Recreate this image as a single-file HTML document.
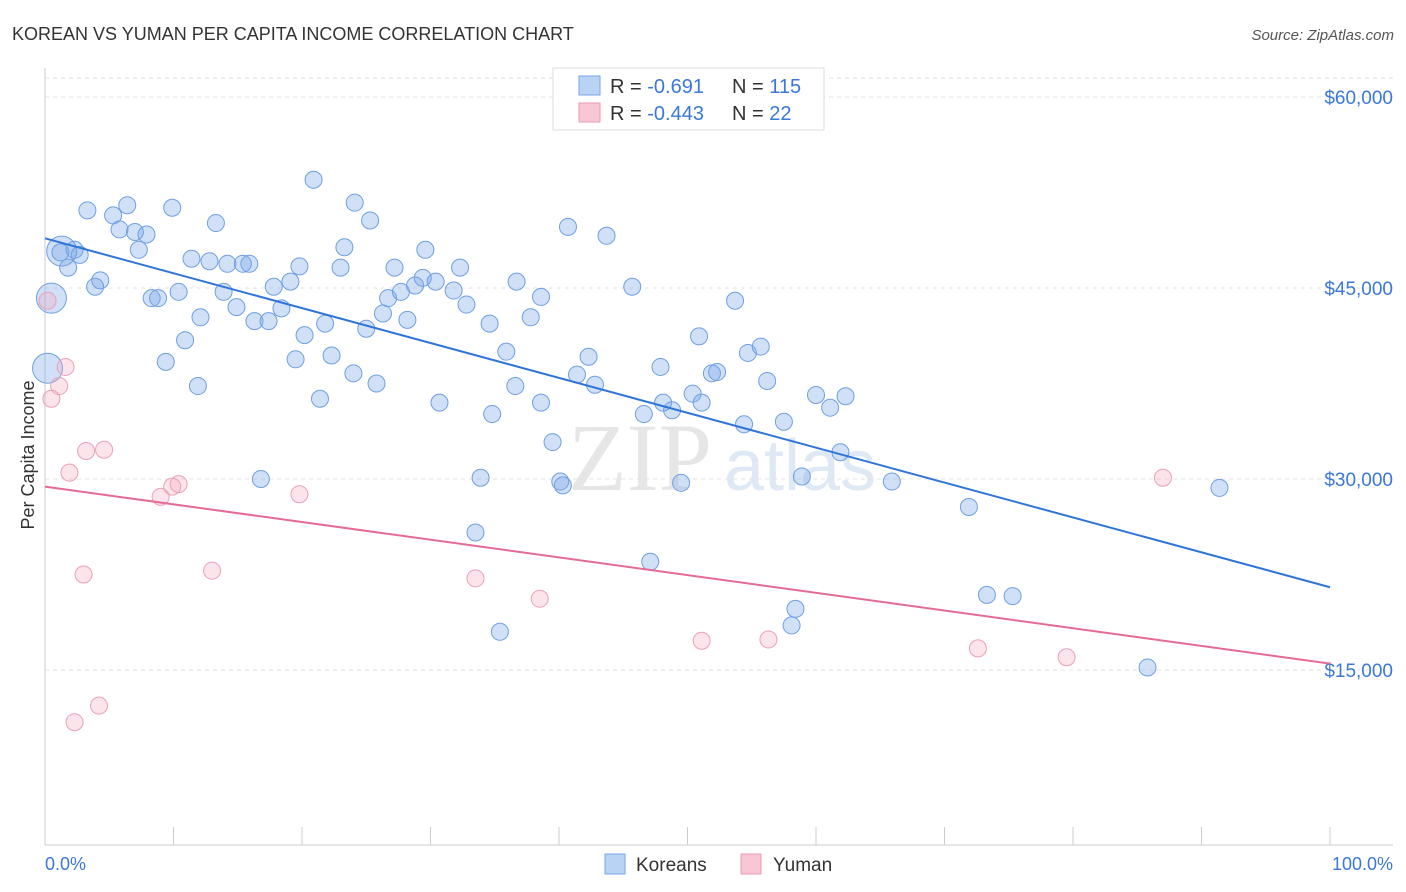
<!DOCTYPE html>
<html><head><meta charset="utf-8"><style>
body{margin:0;background:#fff;font-family:"Liberation Sans",sans-serif;}
svg{display:block}
</style></head><body>
<svg id="c" width="1406" height="892" xmlns="http://www.w3.org/2000/svg">
<text x="12" y="40" font-size="18" fill="#333">KOREAN VS YUMAN PER CAPITA INCOME CORRELATION CHART</text>
<text x="1394" y="40" font-size="15" fill="#555" font-style="italic" text-anchor="end">Source: ZipAtlas.com</text>
<text x="640" y="490" font-size="96" fill="#e6e6e6" font-family="Liberation Serif" text-anchor="middle">ZIP</text>
<text x="800" y="490" font-size="72" fill="#dfe8f5" text-anchor="middle">atlas</text>
<g id="grid"></g><g id="axes"></g><g id="pts"></g><g id="trend"></g>
<text transform="translate(34,455) rotate(-90)" font-size="18" fill="#333" text-anchor="middle">Per Capita Income</text>
<text x="45" y="870" font-size="18" fill="#3b78d8">0.0%</text>
<text x="1393" y="870" font-size="18" fill="#3b78d8" text-anchor="end">100.0%</text>
<g>
<rect x="553" y="68" width="271" height="62" fill="#fff" stroke="#ddd"/>
<rect x="579" y="76" width="21" height="19" fill="#b9d3f5" stroke="#7aa6e6"/>
<rect x="579" y="103" width="21" height="19" fill="#f9c6d5" stroke="#ec9ab5"/>
<text x="610" y="93" font-size="20" fill="#333">R = <tspan fill="#3b78d8"> -0.691</tspan></text>
<text x="732" y="93" font-size="20" fill="#333">N = <tspan fill="#3b78d8">115</tspan></text>
<text x="610" y="120" font-size="20" fill="#333">R = <tspan fill="#3b78d8">-0.443</tspan></text>
<text x="732" y="120" font-size="20" fill="#333">N = <tspan fill="#3b78d8"> 22</tspan></text>
</g>
<g><rect x="605" y="854" width="20" height="20" fill="#b9d3f5" stroke="#7aa6e6"/><text x="636" y="871" font-size="19" fill="#333">Koreans</text></g>
<g><rect x="741" y="854" width="20" height="20" fill="#f9c6d5" stroke="#ec9ab5"/><text x="773" y="871" font-size="19" fill="#333">Yuman</text></g>
</svg>
<script>
const yTicks=[15000,30000,45000,60000];
const yTickLabels=["$15,000","$30,000","$45,000","$60,000"];
const koreanX=[3.3,6.4,5.3,9.9,20.9,24.1,25.3,13.3,40.7,43.7,7.0,7.9,5.8,1.2,2.3,1.8,2.7,7.3,11.4,12.8,14.2,15.4,15.9,19.8,23.0,23.3,27.2,29.6,32.3,36.7,4.3,3.9,10.4,8.3,8.8,13.9,14.9,12.1,16.3,17.4,17.8,18.4,19.1,26.7,27.7,28.8,29.4,30.4,31.8,32.8,26.3,28.2,25.0,21.8,20.2,34.6,37.8,38.6,45.7,53.7,50.9,10.9,9.4,19.5,22.3,35.9,42.3,47.9,54.7,55.7,56.2,52.3,51.9,11.9,24.0,25.8,21.4,30.7,36.6,38.6,34.8,41.4,42.8,46.6,48.1,48.8,50.4,51.1,54.4,57.5,60.0,61.1,62.3,61.9,39.5,16.8,33.9,40.1,40.3,49.5,58.9,65.9,71.9,91.4,33.5,47.1,73.3,75.3,58.4,58.1,35.4,85.8,0.5,0.2,1.3];
const koreanY=[51.1,51.5,50.7,51.3,53.5,51.7,50.3,50.1,49.8,49.1,49.4,49.2,49.6,47.8,48.0,46.6,47.6,48.0,47.3,47.1,46.9,46.9,46.9,46.7,46.6,48.2,46.6,48.0,46.6,45.5,45.6,45.1,44.7,44.2,44.2,44.7,43.5,42.7,42.4,42.4,45.1,43.4,45.5,44.2,44.7,45.2,45.8,45.5,44.8,43.7,43.0,42.5,41.8,42.2,41.3,42.2,42.7,44.3,45.1,44.0,41.2,40.9,39.2,39.4,39.7,40.0,39.6,38.8,39.9,40.4,37.7,38.4,38.3,37.3,38.3,37.5,36.3,36.0,37.3,36.0,35.1,38.2,37.4,35.1,36.0,35.4,36.7,36.0,34.3,34.5,36.6,35.6,36.5,32.1,32.9,30.0,30.1,29.8,29.5,29.7,30.2,29.8,27.8,29.3,25.8,23.5,20.9,20.8,19.8,18.5,18.0,15.2,44.2,38.7,47.9];
const koreanSize=koreanX.map((_,i)=>i>=koreanX.length-3?1:0);
const yumanX=[0.2,1.6,1.1,0.5,1.9,3.2,4.6,10.4,9.9,9.0,19.8,3.0,13.0,33.5,38.5,51.1,56.3,72.6,79.5,87.0,4.2,2.3];
const yumanY=[44.0,38.8,37.3,36.3,30.5,32.2,32.3,29.6,29.4,28.6,28.8,22.5,22.8,22.2,20.6,17.3,17.4,16.7,16.0,30.1,12.2,10.9];
const koreanTrend=[48.9,21.5];
const yumanTrend=[29.4,15.5];
const NS='http://www.w3.org/2000/svg';
const X=p=>45+p*12.85;
const Y=v=>861-v/15000*191;
const Yk=v=>Y(v*1000);
function mk(t,a,p){const e=document.createElementNS(NS,t);for(const k in a)e.setAttribute(k,a[k]);document.getElementById(p).appendChild(e);return e;}
let g=mk('line',{x1:45,x2:1393,y1:78,y2:78,stroke:'#e3e3e3','stroke-dasharray':'4,4'},'grid');


yTicks.forEach((v,i)=>{
 const l=mk('line',{x1:45,x2:1393,y1:Y(v),y2:Y(v),stroke:'#e3e3e3','stroke-dasharray':'4,4'},'grid');
 
 
 const t=mk('text',{x:1393,y:Y(v)+7,'font-size':19,fill:'#3b78d8','text-anchor':'end'},'axes');
 t.textContent=yTickLabels[i];
 
 
});
let ax=mk('line',{x1:45,x2:45,y1:68,y2:845,stroke:'#ccc'},'axes');


let bx=mk('line',{x1:45,x2:1393,y1:845,y2:845,stroke:'#ccc'},'axes');


for(let i=0;i<=10;i++){const t=mk('line',{x1:X(i*10),x2:X(i*10),y1:827,y2:845,stroke:'#ccc'},'axes');
 
 }
koreanX.forEach((x,i)=>{const c=mk('circle',{cx:X(x),cy:Yk(koreanY[i]),r:koreanSize[i]?15:8.5,fill:'rgba(120,165,230,0.35)',stroke:'#6f9fe2','stroke-width':1},'pts');
 
 });
yumanX.forEach((x,i)=>{const c=mk('circle',{cx:X(x),cy:Yk(yumanY[i]),r:8.5,fill:'rgba(245,165,190,0.3)',stroke:'#eba0ba','stroke-width':1},'pts');
 
 });
let kt=mk('line',{x1:X(0),y1:Yk(koreanTrend[0]),x2:X(100),y2:Yk(koreanTrend[1]),stroke:'#2f74d8','stroke-width':2},'trend');


let yt=mk('line',{x1:X(0),y1:Yk(yumanTrend[0]),x2:X(100),y2:Yk(yumanTrend[1]),stroke:'#e56b96','stroke-width':2},'trend');


</script>
</body></html>
